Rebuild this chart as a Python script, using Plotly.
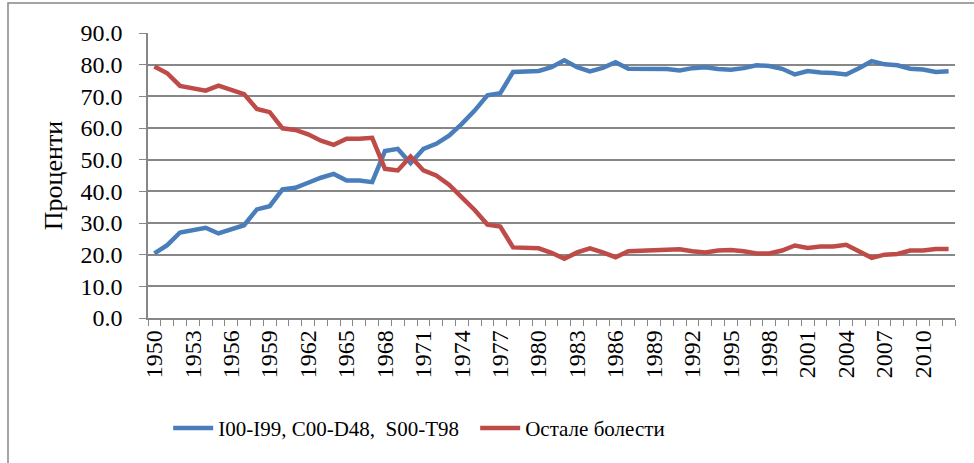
import plotly.graph_objects as go

years = list(range(1950, 2013))

# I00-I99, C00-D48, S00-T98 (%)
main_groups = [
    20.4, 23.0, 27.0, 27.7, 28.5, 26.7, 28.0, 29.3, 34.3, 35.3,
    40.6, 41.1, 42.7, 44.3, 45.5, 43.4, 43.4, 42.9, 52.7, 53.4,
    48.9, 53.4, 55.0, 57.6, 61.3, 65.5, 70.3, 71.0, 77.7, 78.0,
    78.0, 79.2, 81.4, 79.2, 77.9, 79.0, 80.8, 78.7, 78.7, 78.7,
    78.6, 78.2, 78.9, 79.2, 78.6, 78.4, 78.9, 79.8, 79.6, 78.7,
    76.9, 78.0, 77.5, 77.4, 76.9, 78.9, 81.1, 80.1, 79.8, 78.7,
    78.5, 77.7, 77.9,
]

# Остале болести (%)
other = [
    79.4, 77.3, 73.3, 72.7, 71.8, 73.4, 72.1, 70.7, 66.0, 65.0,
    59.9, 59.4, 58.0, 56.0, 54.7, 56.6, 56.6, 56.9, 47.1, 46.6,
    51.0, 46.6, 45.0, 42.1, 38.1, 34.1, 29.5, 28.9, 22.3, 22.0,
    22.0, 20.6, 18.7, 20.7, 22.0, 20.7, 19.2, 21.1, 21.2, 21.3,
    21.3, 21.7, 21.1, 20.7, 21.3, 21.5, 21.1, 20.4, 20.4, 21.3,
    22.9, 22.1, 22.6, 22.6, 23.1, 21.1, 19.0, 20.0, 20.2, 21.3,
    21.3, 21.8, 21.8,
]

label_years = list(range(1950, 2013, 3))

font_family = "Liberation Serif"
grey = "#878787"

fig = go.Figure()
fig.add_trace(go.Scatter(
    x=years, y=main_groups, mode="lines",
    name="I00-I99, C00-D48,  S00-T98",
    line=dict(color="#4A7EBB", width=4.5),
))
fig.add_trace(go.Scatter(
    x=years, y=other, mode="lines",
    name="Остале болести",
    line=dict(color="#BE4B48", width=4.5),
))

fig.update_layout(
    width=974, height=463,
    margin=dict(l=148, r=19, t=33, b=145, autoexpand=False),
    paper_bgcolor="white", plot_bgcolor="white",
    font=dict(family=font_family, size=24, color="black"),
    showlegend=True,
    legend=dict(
        orientation="h", x=0.025, xanchor="left", y=-0.387, yanchor="middle",
        font=dict(family=font_family, size=21), itemwidth=40, entrywidth=252,
        bgcolor="rgba(0,0,0,0)",
    ),
    shapes=[dict(
        type="rect", xref="paper", yref="paper",
        x0=-140 / 807, x1=1.2, y0=-1.0, y1=1 + 30 / 284.5,
        line=dict(color=grey, width=1.5), layer="below",
    )],
)

fig.update_xaxes(
    range=[1949.5, 2012.5], automargin=False,
    tickmode="array", tickvals=label_years, ticktext=[str(y) for y in label_years],
    tickangle=-90, ticks="", showgrid=False, zeroline=False,
    showline=True, linecolor=grey, linewidth=1.5,
    tickfont=dict(family=font_family, size=24),
    ticklabelstandoff=1,
    minor=dict(tick0=1949.5, dtick=1, ticks="outside", ticklen=6,
               tickcolor=grey, tickwidth=1.2, showgrid=False),
)
fig.update_yaxes(
    range=[0, 90], dtick=10, tickformat=".1f", automargin=False,
    ticks="outside", ticklen=7, tickcolor=grey, tickwidth=1.2,
    showgrid=True, gridcolor=grey, gridwidth=1.5,
    zeroline=False, showline=True, linecolor=grey, linewidth=1.5,
    tickfont=dict(family=font_family, size=24),
    ticklabelstandoff=12,
    title=dict(text="Проценти", standoff=10, font=dict(family=font_family, size=26)),
)

fig.write_html(
    "out.html",
    config={"displayModeBar": False},
    post_script="document.body.style.margin='0';",
)
